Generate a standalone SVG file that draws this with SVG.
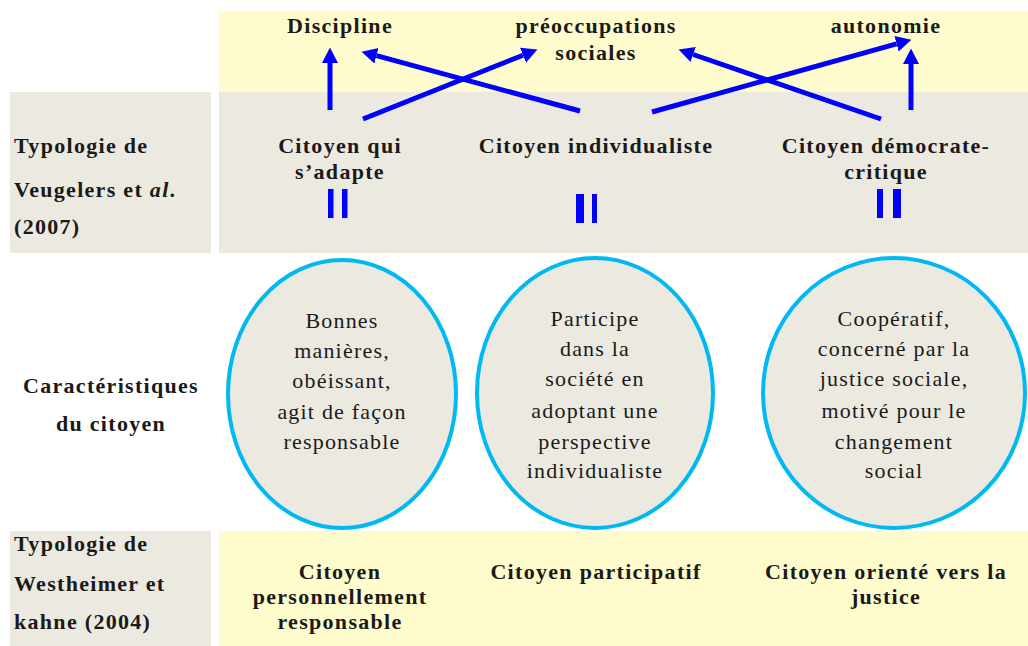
<svg xmlns="http://www.w3.org/2000/svg" width="1028" height="646" viewBox="0 0 1028 646">
<style>
.b{font-family:"Liberation Serif","DejaVu Serif",serif;font-weight:bold;font-size:22px;letter-spacing:1.3px;fill:#1a1a1a}
.r{font-family:"Liberation Serif","DejaVu Serif",serif;font-size:22px;letter-spacing:1.2px;fill:#1a1a1a}
.m{text-anchor:middle}
.y{fill:#fefccc}
.g{fill:#ece9e0}
.e{fill:#ece9e0;stroke:#00b9f2;stroke-width:4}
.c{stroke:#0000ff;stroke-width:5;fill:none;marker-end:url(#ah)}
.bar{fill:#0000ff}
</style>
<defs>
<marker id="ah" markerUnits="userSpaceOnUse" markerWidth="16" markerHeight="18" viewBox="0 -8 15 16" refX="0" refY="0" orient="auto">
<path d="M0,-7.5 L14.5,0 L0,7.5 z" fill="#0000ff"/>
</marker>
</defs>
<rect width="1028" height="646" fill="#ffffff"/>
<g id="bands">
<rect class="y" x="219" y="11" width="809" height="81"/>
<rect class="g" x="10" y="92" width="201" height="161"/>
<rect class="g" x="219" y="92" width="809" height="161"/>
<rect class="g" x="10" y="531" width="201" height="115"/>
<rect class="y" x="219" y="531" width="809" height="115"/>
</g>
<g id="label-veugelers">
<text class="b" x="14" y="153">Typologie de</text>
<text class="b" x="14" y="197">Veugelers et <tspan font-style="italic">al</tspan>.</text>
<text class="b" x="14" y="234">(2007)</text>
</g>
<g id="label-caracteristiques">
<text class="b m" x="111" y="393">Caractéristiques</text>
<text class="b m" x="111" y="431">du citoyen</text>
</g>
<g id="label-westheimer">
<text class="b" x="14" y="551">Typologie de</text>
<text class="b" x="14" y="591">Westheimer et</text>
<text class="b" x="14" y="629">kahne (2004)</text>
</g>
<g id="discipline"><text class="b m" x="340" y="33">Discipline</text></g>
<g id="preoccupations">
<text class="b m" x="596" y="33">préoccupations</text>
<text class="b m" x="596" y="60">sociales</text>
</g>
<g id="autonomie"><text class="b m" x="886" y="33">autonomie</text></g>
<g id="citoyen-adapte">
<text class="b m" x="340" y="153">Citoyen qui</text>
<text class="b m" x="340" y="179">s’adapte</text>
</g>
<g id="citoyen-individualiste">
<text class="b m" x="596" y="153">Citoyen individualiste</text>
</g>
<g id="citoyen-democrate">
<text class="b m" x="886" y="153">Citoyen démocrate-</text>
<text class="b m" x="886" y="179">critique</text>
</g>
<g id="equals">
<rect class="bar" x="328" y="189" width="5.5" height="29"/>
<rect class="bar" x="342" y="189" width="5.5" height="29"/>
<rect class="bar" x="576" y="194" width="8" height="29"/>
<rect class="bar" x="592" y="194" width="5" height="29"/>
<rect class="bar" x="877" y="189" width="6" height="29"/>
<rect class="bar" x="893" y="189" width="8" height="29"/>
</g>
<g id="ellipse-1">
<ellipse class="e" cx="342" cy="394" rx="114" ry="134"/>
<text class="r m" x="342" y="328">Bonnes</text>
<text class="r m" x="342" y="358">manières,</text>
<text class="r m" x="342" y="388">obéissant,</text>
<text class="r m" x="342" y="419">agit de façon</text>
<text class="r m" x="342" y="449">responsable</text>
</g>
<g id="ellipse-2">
<ellipse class="e" cx="595" cy="393" rx="118" ry="135"/>
<text class="r m" x="595" y="326">Participe</text>
<text class="r m" x="595" y="356">dans la</text>
<text class="r m" x="595" y="386">société en</text>
<text class="r m" x="595" y="418">adoptant une</text>
<text class="r m" x="595" y="449">perspective</text>
<text class="r m" x="595" y="478">individualiste</text>
</g>
<g id="ellipse-3">
<ellipse class="e" cx="894" cy="393" rx="131" ry="135"/>
<text class="r m" x="894" y="326">Coopératif,</text>
<text class="r m" x="894" y="356">concerné par la</text>
<text class="r m" x="894" y="386">justice sociale,</text>
<text class="r m" x="894" y="418">motivé pour le</text>
<text class="r m" x="894" y="449">changement</text>
<text class="r m" x="894" y="478">social</text>
</g>
<g id="citoyen-personnellement">
<text class="b m" x="340" y="579">Citoyen</text>
<text class="b m" x="340" y="604">personnellement</text>
<text class="b m" x="340" y="629">responsable</text>
</g>
<g id="citoyen-participatif">
<text class="b m" x="596" y="579">Citoyen participatif</text>
</g>
<g id="citoyen-justice">
<text class="b m" x="886" y="579">Citoyen orienté vers la</text>
<text class="b m" x="886" y="604">justice</text>
</g>
<g id="connectors">
<line class="c" x1="330" y1="110" x2="330" y2="63"/>
<line class="c" x1="580" y1="111" x2="376.5" y2="55.7"/>
<line class="c" x1="363" y1="119" x2="523" y2="55.2"/>
<line class="c" x1="652" y1="112" x2="896.5" y2="43.8"/>
<line class="c" x1="881" y1="119" x2="693.2" y2="54.5"/>
<line class="c" x1="911" y1="110" x2="911" y2="64"/>
</g>
</svg>
